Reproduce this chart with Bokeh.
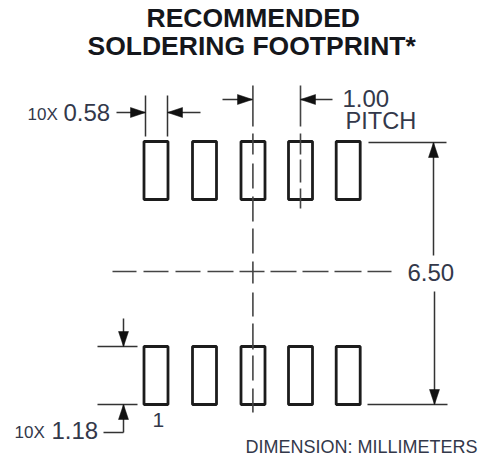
from bokeh.plotting import figure
from bokeh.models import Range1d
from bokeh.core.properties import value
from bokeh.embed import file_html
from bokeh.resources import INLINE

# Drawing, in reference picture units
pad_centers = [155.5, 204, 252.5, 300, 347.7]
pad_width = 24
pad_height = 58
row_centers = [170, 375]

# centre lines: (fixed coordinate, [(start, end), ...])
centre_v_3 = (252.4, [(85, 126), (133, 154), (163, 188), (196, 221), (228, 253), (261, 283),
                      (292, 316), (323, 349), (355, 380), (388, 412)])
centre_v_4 = (300, [(85, 126), (133, 154), (159, 182), (188, 208)])
centre_h = (271, [(112, 136), (143, 168), (175, 200), (207, 233), (239, 264), (270, 296),
                  (302, 328), (334, 361), (367, 391)])

# dimension lines (x0, y0, x1, y1)
dim_lines = [
    (145, 95, 145, 136), (167, 95, 167, 136),
    (116, 112, 145, 112), (167, 112, 200, 112),
    (222, 99, 252, 99), (300, 99, 332, 99),
    (368, 142, 446, 142), (367, 404, 447, 404),
    (433, 142, 433, 255), (434, 291, 434, 404),
    (97, 346, 137, 346), (97, 404, 137, 404),
    (123, 318, 123, 346), (123, 404, 123, 432), (103, 432, 123, 432),
]
# arrow tips (x, y, direction x, direction y)
arrow_tips = [
    (145, 112, 1, 0), (167, 112, -1, 0), (252, 99, 1, 0), (300, 99, -1, 0),
    (433, 142, 0, -1), (434, 404, 0, 1), (123, 346, 0, 1), (123, 404, 0, -1),
]
head_len, head_half = 15, 5

# texts: (string, x, baseline y, size px, style, colour)
labels = [
    ("RECOMMENDED", 146, 27, 26.5, "bold", "#15171c"),
    ("SOLDERING FOOTPRINT*", 87, 55, 26.5, "bold", "#15171c"),
    ("10X", 27, 120, 17, "normal", "#33384a"),
    ("0.58", 63, 121, 24, "normal", "#33384a"),
    ("1.00", 342, 107, 24, "normal", "#33384a"),
    ("PITCH", 345, 129, 23.6, "normal", "#33384a"),
    ("6.50", 407, 281, 24, "normal", "#33384a"),
    ("10X", 14, 438, 17, "normal", "#33384a"),
    ("1.18", 51, 439, 24, "normal", "#33384a"),
    ("1", 152, 427, 21, "normal", "#33384a"),
    ("DIMENSION: MILLIMETERS", 245, 453, 18, "normal", "#33384a"),
]
baseline_shift = 0.37  # of the font size: where the text baseline lands in the picture

p = figure(width=480, height=459, output_backend="svg", toolbar_location=None,
           x_range=Range1d(0, 480), y_range=Range1d(459, 0),
           min_border=0, outline_line_color=None, background_fill_color="white")
p.axis.visible = False
p.grid.visible = False

pad_xs = [c for _ in row_centers for c in pad_centers]
pad_ys = [r for r in row_centers for _ in pad_centers]
p.rect(pad_xs, pad_ys, width=pad_width, height=pad_height, fill_color=None,
       line_color="#1c1c1c", line_width=2.8)

xs, ys = [], []
for x, segs in (centre_v_3, centre_v_4):
    for a, b in segs:
        xs.append([x, x]); ys.append([a, b])
y, segs = centre_h
for a, b in segs:
    xs.append([a, b]); ys.append([y, y])
p.multi_line(xs, ys, line_color="#444444", line_width=1.6)

p.multi_line([[d[0], d[2]] for d in dim_lines], [[d[1], d[3]] for d in dim_lines],
             line_color="#333333", line_width=1.5)

hx, hy = [], []
for x, y, dx, dy in arrow_tips:
    bx, by = x - dx * head_len, y - dy * head_len
    hx.append([x, bx - dy * head_half, bx + dy * head_half])
    hy.append([y, by - dx * head_half, by + dx * head_half])
p.patches(hx, hy, fill_color="#111111", line_color="#111111", line_width=0.5)

for s, x, y, size, style, col in labels:
    p.text([x], [y - baseline_shift * size], text=[s], text_font=value("Liberation Sans"),
           text_font_size=f"{size}px", text_font_style=style, text_color=col,
           text_baseline="alphabetic", text_align="left")

open("out.html", "w").write(file_html(p, INLINE))
